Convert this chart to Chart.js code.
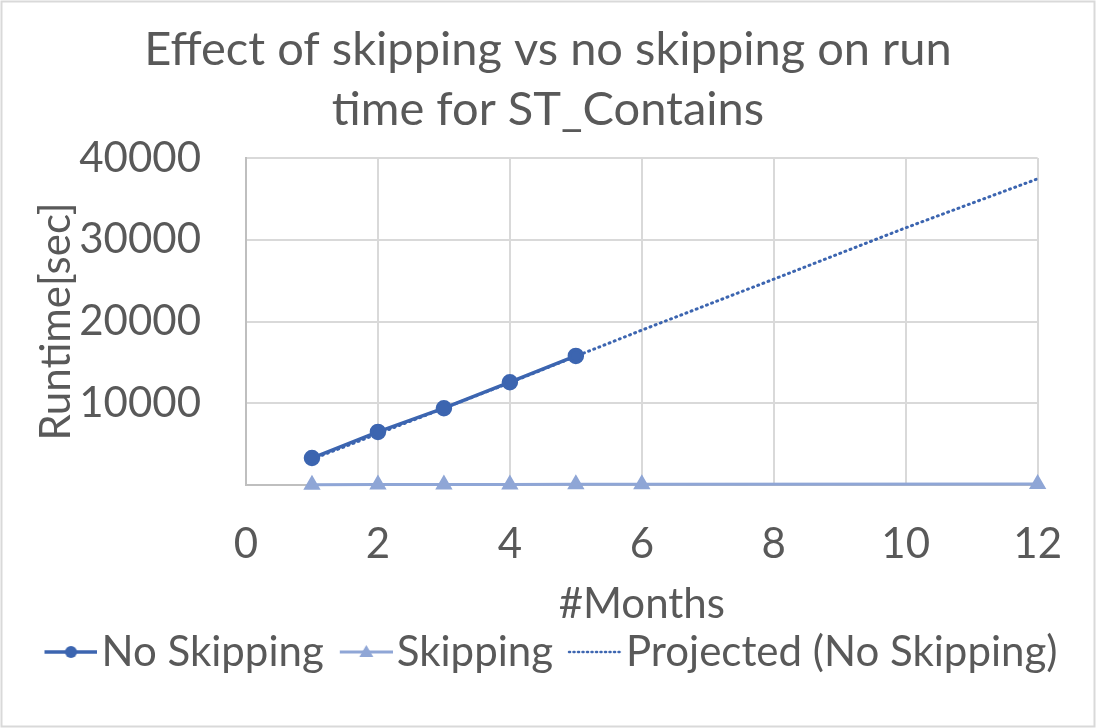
<!DOCTYPE html>
<html>
<head>
<meta charset="utf-8">
<script src="https://cdn.jsdelivr.net/npm/chart.js@4/dist/chart.umd.min.js"></script>
<style>
  body { margin: 0; background: #fff; }
  #wrap { width: 1096px; height: 728px; }
</style>
</head>
<body>
<div id="wrap"><canvas id="myChart" width="1096" height="728"></canvas></div>
<script>
let titleLines = ['Effect of skipping vs no skipping on run', 'time for ST_Contains'];

let noSkipMonths = [1, 2, 3, 4, 5];
let noSkipValues = [3300, 6490, 9390, 12570, 15790];

let skipMonths = [1, 2, 3, 4, 5, 6, 12];
let skipValues = [40, 50, 60, 70, 80, 90, 130];

let projMonths = [1, 2, 3, 4, 5, 6, 7, 8, 9, 10, 11, 12];
let projValues = [3150, 6270, 9390, 12510, 15750, 18940, 22060, 25180, 28320, 31460, 34460, 37450];

let xTicks = [0, 2, 4, 6, 8, 10, 12];
let yTicks = [10000, 20000, 30000, 40000];

let darkBlue = '#3c65b0';
let lightBlue = '#8fa6d6';
let textColor = '#595959';
let fontFamily = 'Lato, sans-serif';
let labelSize = 42;
let titleSize = 47;

function toPoints(xs, ys) {
  return xs.map((x, i) => ({ x: x, y: ys[i] }));
}

// legend icons (line + marker) drawn into small canvases, offset so the
// icon sits close to its text like in the original
let boxW = 63 - labelSize / 2;
let iconW = Math.ceil(2 * (59 - boxW / 2));
let iconOff = 6 - (boxW / 2 - iconW / 2);

function makeIcon(kind) {
  let c = document.createElement('canvas');
  c.width = iconW;
  c.height = 20;
  let g = c.getContext('2d');
  let x0 = iconOff, x1 = iconOff + 53, cy = 10;
  g.beginPath();
  g.moveTo(x0, cy);
  g.lineTo(x1, cy);
  if (kind === 'proj') {
    g.strokeStyle = darkBlue;
    g.lineWidth = 2.5;
    g.lineCap = 'round';
    g.setLineDash([1, 3.5]);
    g.stroke();
    return c;
  }
  g.strokeStyle = kind === 'no' ? darkBlue : lightBlue;
  g.lineWidth = kind === 'no' ? 3.5 : 3;
  g.stroke();
  let mx = (x0 + x1) / 2;
  g.fillStyle = kind === 'no' ? darkBlue : lightBlue;
  g.beginPath();
  if (kind === 'no') {
    g.arc(mx, cy, 6, 0, Math.PI * 2);
  } else {
    g.moveTo(mx, cy - 7);
    g.lineTo(mx + 7, cy + 5);
    g.lineTo(mx - 7, cy + 5);
    g.closePath();
  }
  g.fill();
  return c;
}

let icons = [makeIcon('no'), makeIcon('skip'), makeIcon('proj')];

let frame = {
  id: 'frame',
  beforeDraw(chart) {
    let c = chart.ctx;
    c.save();
    c.fillStyle = '#fff';
    c.fillRect(0, 0, chart.width, chart.height);
    c.strokeStyle = '#d9d9d9';
    c.lineWidth = 2;
    c.strokeRect(1.5, 1.5, chart.width - 3, chart.height - 3);
    c.restore();
  }
};

let ctx = document.getElementById('myChart').getContext('2d');
let myChart = new Chart(ctx, {
  type: 'line',
  data: {
    datasets: [
      {
        label: 'No Skipping',
        data: toPoints(noSkipMonths, noSkipValues),
        borderColor: darkBlue,
        backgroundColor: darkBlue,
        borderWidth: 3.5,
        pointRadius: 6.5,
        pointStyle: 'circle',
      },
      {
        label: 'Skipping',
        data: toPoints(skipMonths, skipValues),
        borderColor: lightBlue,
        backgroundColor: lightBlue,
        borderWidth: 3,
        pointRadius: 7,
        pointStyle: 'triangle',
        clip: false,
      },
      {
        label: 'Projected (No Skipping)',
        data: toPoints(projMonths, projValues),
        borderColor: darkBlue,
        backgroundColor: darkBlue,
        borderWidth: 3,
        borderDash: [1, 4.5],
        borderCapStyle: 'round',
        pointRadius: 0,
      },
    ],
  },
  options: {
    responsive: false,
    animation: false,
    layout: { padding: { left: 0, right: 0, top: 0, bottom: 45 } },
    plugins: {
      tooltip: { enabled: false },
      title: {
        display: true,
        text: titleLines,
        color: textColor,
        font: { family: fontFamily, size: titleSize, weight: 'normal', lineHeight: 60 / titleSize },
        padding: { top: 20, bottom: 18 },
      },
      legend: {
        position: 'bottom',
        labels: {
          color: textColor,
          font: { family: fontFamily, size: labelSize },
          usePointStyle: true,
          pointStyleWidth: boxW,
          padding: 10,
          generateLabels: (chart) =>
            Chart.defaults.plugins.legend.labels.generateLabels(chart).map((l, i) => ({ ...l, pointStyle: icons[i] })),
        },
      },
    },
    scales: {
      x: {
        type: 'linear',
        min: 0,
        max: 12,
        afterBuildTicks: (s) => { s.ticks = xTicks.map((v) => ({ value: v })); },
        afterFit: (s) => { s.height = 136; },
        ticks: { color: textColor, font: { family: fontFamily, size: labelSize }, padding: 34 },
        grid: { color: '#d9d9d9', lineWidth: 2, drawTicks: false },
        border: { color: '#bfbfbf', width: 2 },
        title: {
          display: true,
          text: '#Months',
          color: textColor,
          font: { family: fontFamily, size: labelSize },
          padding: { top: 0, bottom: -9 },
        },
      },
      y: {
        min: 0,
        max: 40000,
        afterBuildTicks: (s) => { s.ticks = [0].concat(yTicks).map((v) => ({ value: v })); },
        afterFit: (s) => { s.width = 246; },
        ticks: {
          color: textColor,
          font: { family: fontFamily, size: labelSize },
          padding: 45,
          callback: (v) => (yTicks.includes(v) ? String(v) : ''),
        },
        grid: { color: '#d9d9d9', lineWidth: 2, drawTicks: false },
        border: { color: '#bfbfbf', width: 2 },
        title: {
          display: true,
          text: 'Runtime[sec]',
          color: textColor,
          font: { family: fontFamily, size: labelSize },
          padding: { top: 31, bottom: 0 },
        },
      },
      // empty right-hand axis that only reserves the right margin
      yRight: {
        position: 'right',
        min: 0,
        max: 40000,
        afterFit: (s) => { s.width = 45; },
        ticks: { display: false },
        grid: { drawOnChartArea: false, drawTicks: false },
        border: { display: false },
      },
    },
  },
  plugins: [frame],
});
</script>
</body>
</html>
